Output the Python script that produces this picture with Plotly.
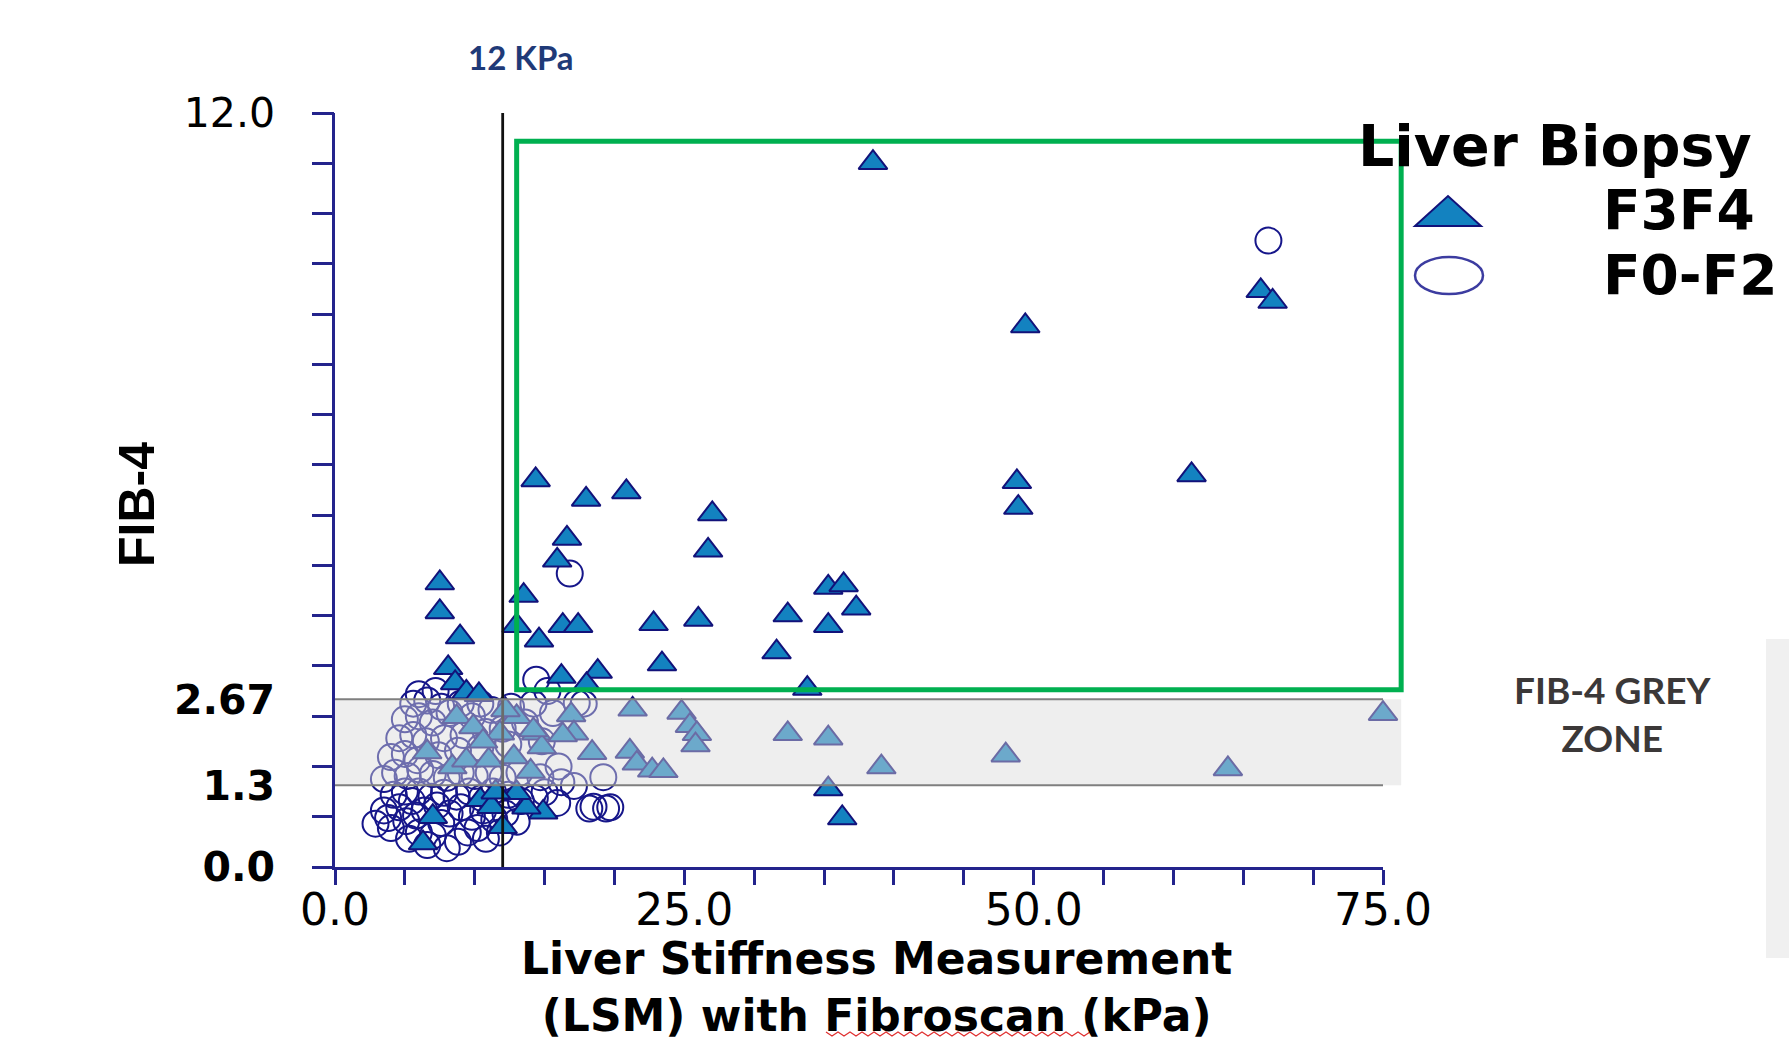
import plotly.graph_objects as go

# ---------------- data ----------------
# Liver biopsy F3-F4 (advanced fibrosis): LSM (kPa) and FIB-4
F3F4_LSM = [38.5, 66.25, 67.1, 49.4, 48.8, 48.9, 61.3, 14.36, 17.97, 20.85, 27.0, 16.6,
            26.7, 15.9, 13.5, 35.3, 36.4, 37.3, 13.0, 16.3, 17.4, 14.6, 22.8, 26.0,
            32.4, 35.3, 31.6, 23.4, 16.2, 18.8, 18.0, 33.8, 7.5, 7.5, 8.95, 8.1,
            8.6, 9.4, 10.3,
            21.3, 24.8, 25.4, 25.9, 25.8, 16.9, 14.4, 17.1, 16.3, 14.8, 18.4, 21.1,
            21.6, 22.7, 23.5, 14.0, 32.4, 35.3, 39.1, 48.0, 63.9, 75.0, 35.3, 8.7,
            9.9, 6.6, 8.4, 9.4, 11.0, 12.8, 11.8, 13.0, 14.2, 10.6, 12.2,
            36.3, 14.9, 13.7, 10.4, 11.2, 12.0, 6.3, 7.0, 13.0, 11.5]
F3F4_FIB4 = [11.21, 9.17, 9.0, 8.61, 6.13, 5.72, 6.24, 6.16, 5.85, 5.97, 5.62, 5.23,
             5.04, 4.88, 4.32, 4.45, 4.49, 4.12, 3.84, 3.84, 3.84, 3.61, 3.87, 3.94,
             4.01, 3.84, 3.42, 3.23, 3.03, 3.11, 2.9, 2.84, 4.52, 4.06, 3.66, 3.17,
             2.93, 2.78, 2.74,
             2.51, 2.46, 2.25, 2.12, 1.94, 2.42, 2.13, 2.13, 2.1, 1.91, 1.82, 1.84,
             1.65, 1.54, 1.53, 1.52, 2.12, 2.05, 1.59, 1.78, 1.56, 2.44, 1.24, 2.39,
             2.23, 1.83, 1.59, 1.7, 1.7, 1.75, 2.13, 2.39, 2.18, 2.0, 2.5,
             0.78, 0.87, 0.95, 1.07, 0.96, 0.64, 0.38, 0.8, 1.18, 1.19]

# Liver biopsy F0-F2: LSM (kPa) and FIB-4
F0F2_LSM = [2.9, 4.0, 5.1, 6.0, 7.0, 8.8, 9.5, 3.5, 4.6, 5.5, 6.4, 7.3, 8.2, 9.0, 9.8,
            10.6, 11.4, 12.2, 4.2, 5.0, 6.0, 6.9, 7.8, 8.7, 9.6, 10.5, 11.3, 12.4, 13.3,
            14.3, 3.8, 5.8, 7.6, 10.2, 11.8, 13.0, 6.6, 8.0, 5.3, 10.8, 15.0, 15.9, 17.1,
            18.2, 18.5, 19.4, 19.7, 19.2, 14.7, 16.2,
            3.5, 4.3, 5.2, 6.1, 7.0, 8.0, 9.0, 10.0, 11.0, 12.0, 13.2, 4.0, 5.0, 5.9,
            7.4, 8.8, 10.4, 12.4, 4.6, 5.6, 6.5, 7.8, 9.2, 10.8, 12.0, 13.6, 5.0, 6.0,
            7.0, 8.2, 9.8, 11.2, 12.6, 5.6, 6.6, 7.6, 9.0, 10.4, 14.2, 15.6, 17.3, 17.8,
            14.8, 16.0,
            6.0, 7.2, 14.4, 16.8, 15.2, 66.8]
F0F2_FIB4 = [0.69, 0.62, 0.73, 0.55, 0.5, 0.4, 0.55, 0.9, 0.95, 1.05, 0.9, 0.98, 0.85,
             0.95, 0.8, 0.9, 0.75, 0.85, 1.15, 1.2, 1.2, 1.12, 1.18, 1.12, 1.2, 1.1, 1.2,
             1.15, 1.05, 1.1, 0.78, 0.82, 0.7, 0.62, 0.55, 0.72, 0.35, 0.3, 0.45, 0.45,
             1.19, 1.02, 1.29, 0.93, 0.96, 0.93, 0.95, 1.43, 1.43, 1.35,
             1.4, 1.5, 1.45, 1.55, 1.48, 1.42, 1.5, 1.45, 1.5, 1.42, 1.5, 1.75, 1.8, 1.7,
             1.78, 1.85, 1.9, 1.95, 2.05, 2.1, 2.0, 2.05, 2.1, 2.15, 2.2, 2.3, 2.35, 2.4,
             2.3, 2.45, 2.4, 2.5, 2.55, 2.6, 2.65, 2.55, 2.6, 2.6, 2.6, 2.45, 2.61, 2.6,
             2.0, 1.6,
             2.75, 2.8, 2.98, 4.67, 2.8, 9.97]

X_TICK_VALS = [0, 25, 50, 75]
X_TICK_TEXT = ["0.0", "25.0", "50.0", "75.0"]
X_MINOR_STEP = 5
Y_TICK_VALS = [0, 1.3, 2.67, 12]
Y_TICK_TEXT = ["<b>0.0</b>", "<b>1.3</b>", "<b>2.67</b>", "12.0"]
Y_MINOR_TICKS = [round(i * 0.8, 2) for i in range(16)]

LSM_CUTOFF = 12          # kPa
GREY_ZONE = [1.3, 2.67]  # FIB-4 indeterminate zone
BOX_LSM = [13.0, 76.3]
BOX_FIB4 = [2.82, 11.55]
X_RANGE = [0, 75]
Y_RANGE = [0, 12]

# ---------------- layout geometry ----------------
W, H = 1789, 1041
ML, MR, MT, MB = 335, 406, 113, 174
PW, PH = W - ML - MR, H - MT - MB

NAVY = "#23238C"
TRI_FILL = "#1382C0"
TRI_LINE = "#12127A"
CIRC_LINE = "#16168A"
GREEN = "#00B050"


def xp(x):  # data x -> paper
    return (x - X_RANGE[0]) / (X_RANGE[1] - X_RANGE[0])


def yp(y):  # data y -> paper
    return (y - Y_RANGE[0]) / (Y_RANGE[1] - Y_RANGE[0])


def pxp(px, py):  # pixel -> paper (for decorations)
    return (px - ML) / PW, (H - MB - py) / PH


fig = go.Figure()

fig.add_trace(go.Scatter(
    x=F0F2_LSM, y=F0F2_FIB4, mode="markers", name="F0-F2", cliponaxis=False,
    marker=dict(symbol="circle", size=26, color="rgba(0,0,0,0)",
                line=dict(color=CIRC_LINE, width=2)),
    showlegend=False))
fig.add_trace(go.Scatter(
    x=F3F4_LSM, y=F3F4_FIB4, mode="markers", name="F3F4", cliponaxis=False,
    marker=dict(symbol="triangle-up", size=25, color=TRI_FILL,
                line=dict(color=TRI_LINE, width=2)),
    showlegend=False))
# carrier for the minor-tick axis
fig.add_trace(go.Scatter(x=[], y=[], yaxis="y2", showlegend=False, hoverinfo="skip"))

shapes = []
# 12 kPa cutoff line
shapes.append(dict(type="line", xref="x", yref="y", x0=LSM_CUTOFF, x1=LSM_CUTOFF,
                   y0=Y_RANGE[0], y1=Y_RANGE[1], line=dict(color="#111111", width=2.8),
                   layer="above"))
# grey zone (translucent overlay)
shapes.append(dict(type="rect", xref="paper", yref="paper", x0=xp(0), x1=xp(BOX_LSM[1]),
                   y0=yp(GREY_ZONE[0]), y1=yp(GREY_ZONE[1]),
                   fillcolor="rgba(218,218,218,0.45)", line=dict(width=0), layer="above"))
for gz in GREY_ZONE:
    shapes.append(dict(type="line", xref="paper", yref="paper", x0=xp(0), x1=xp(75),
                       y0=yp(gz), y1=yp(gz), line=dict(color="#7F7F7F", width=2),
                       layer="above"))
# green box
shapes.append(dict(type="rect", xref="paper", yref="paper", x0=xp(BOX_LSM[0]), x1=xp(BOX_LSM[1]),
                   y0=yp(BOX_FIB4[0]), y1=yp(BOX_FIB4[1]),
                   line=dict(color=GREEN, width=5), fillcolor="rgba(0,0,0,0)", layer="above"))
# legend symbols
ax_, ay_ = pxp(1448, 196)
bx_, by_ = pxp(1415, 226)
cx_, cy_ = pxp(1481, 226)
shapes.append(dict(type="path", xref="paper", yref="paper",
                   path=f"M {bx_},{by_} L {cx_},{cy_} L {ax_},{ay_} Z",
                   fillcolor=TRI_FILL, line=dict(color=TRI_LINE, width=2), layer="above"))
e0x, e0y = pxp(1415, 294)
e1x, e1y = pxp(1483, 257)
shapes.append(dict(type="circle", xref="paper", yref="paper", x0=e0x, x1=e1x, y0=e0y, y1=e1y,
                   line=dict(color="#3C3CA0", width=2.5), fillcolor="rgba(0,0,0,0)",
                   layer="above"))
# light grey strip at right edge
g0x, g0y = pxp(1766, 958)
g1x, g1y = pxp(1789, 639)
shapes.append(dict(type="rect", xref="paper", yref="paper", x0=g0x, x1=g1x, y0=g0y, y1=g1y,
                   fillcolor="#F0F0F0", line=dict(width=0), layer="below"))
# red spell-check squiggle under "Fibroscan"
pts = []
for i in range(0, 46):
    sx, sy = pxp(826 + i * 6, 1033 + (3 if i % 2 else -1))
    pts.append(f"{sx},{sy}")
shapes.append(dict(type="path", xref="paper", yref="paper", path="M " + " L ".join(pts),
                   line=dict(color="#E03030", width=1.2), layer="above"))

annotations = []


def ann(text, px, py, size, color="#000000", family="Lato", xanchor="center", angle=0):
    x, y = pxp(px, py)
    annotations.append(dict(text=text, x=x, y=y, xref="paper", yref="paper", showarrow=False,
                            xanchor=xanchor, yanchor="middle", textangle=angle,
                            font=dict(size=size, color=color, family=family)))


ann("<b>12 KPa</b>", 521, 57, 33, color="#1F3A78")
ann("<b>FIB-4</b>", 137, 505, 50, family="Liberation Sans, Arial, sans-serif", angle=-90)
ann("<b>Liver Stiffness Measurement<br>(LSM) with Fibroscan (kPa)</b>", 876, 987, 44,
    family="DejaVu Sans")
ann("<b>FIB-4 GREY<br>ZONE</b>", 1612, 713, 37, color="#3B3838")
ann("<b>Liver Biopsy</b>", 1356, 146, 57, family="DejaVu Sans", xanchor="left")
ann("<b>F3F4</b>", 1601, 210, 55, family="DejaVu Sans", xanchor="left")
ann("<b>F0-F2</b>", 1601, 275, 55, family="DejaVu Sans", xanchor="left")

fig.update_layout(
    width=W, height=H, autosize=False,
    margin=dict(l=ML, r=MR, t=MT, b=MB, pad=0),
    paper_bgcolor="white", plot_bgcolor="white",
    showlegend=False,
    xaxis=dict(range=X_RANGE, showline=True, linecolor=NAVY, linewidth=2.5,
               showgrid=False, zeroline=False,
               tickmode="array", tickvals=X_TICK_VALS, ticktext=X_TICK_TEXT,
               ticks="outside", ticklen=15, tickwidth=2.5, tickcolor=NAVY,
               ticklabelstandoff=-13,
               tickfont=dict(family="DejaVu Sans", size=44, color="#000000"),
               minor=dict(dtick=X_MINOR_STEP, tick0=0, ticks="outside", ticklen=15,
                          tickwidth=2.5, tickcolor=NAVY, showgrid=False)),
    yaxis=dict(range=Y_RANGE, showline=True, linecolor=NAVY, linewidth=2.5,
               showgrid=False, zeroline=False,
               tickmode="array", tickvals=Y_TICK_VALS, ticktext=Y_TICK_TEXT,
               ticks="", ticklen=0, ticklabelstandoff=49,
               tickfont=dict(family="DejaVu Sans", size=41, color="#000000")),
    yaxis2=dict(range=Y_RANGE, overlaying="y", side="left", showline=False,
                showgrid=False, zeroline=False, showticklabels=False,
                tickmode="array", tickvals=Y_MINOR_TICKS,
                ticks="outside", ticklen=22, tickwidth=2.5, tickcolor=NAVY),
    shapes=shapes,
    annotations=annotations,
)

fig.write_html("out.html", include_plotlyjs=True, config={"displayModeBar": False},
               post_script="document.body.style.margin='0px';document.body.style.overflow='hidden';")
